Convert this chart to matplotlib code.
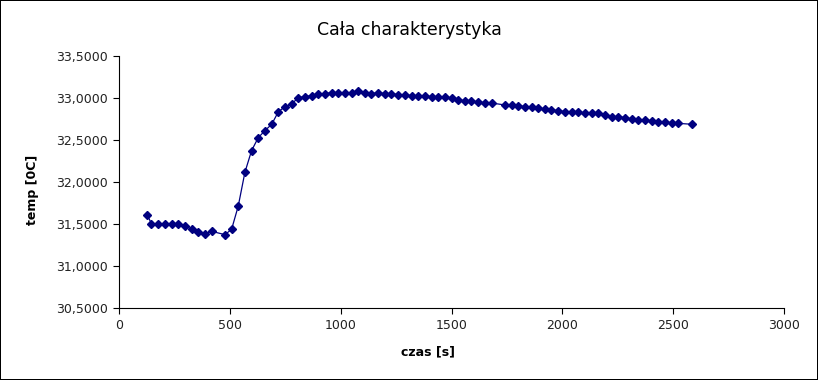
import matplotlib
matplotlib.use("Agg")
import matplotlib.pyplot as plt
from matplotlib.ticker import FuncFormatter

czas = [128, 146, 177, 208, 238, 268, 298, 328, 358, 388, 418, 478, 508, 538,
        568, 598, 628, 658, 689, 719, 749, 779, 809, 839, 869, 899, 929, 959,
        989, 1019, 1049, 1079, 1109, 1139, 1169, 1199, 1229, 1260, 1290, 1320,
        1350, 1380, 1410, 1440, 1470, 1500, 1530, 1560, 1590, 1621, 1651, 1681,
        1741, 1771, 1801, 1831, 1861, 1891, 1921, 1951, 1981, 2012, 2042, 2072,
        2102, 2132, 2162, 2192, 2222, 2252, 2282, 2313, 2343, 2373, 2403, 2433,
        2463, 2493, 2523, 2586]
temp = [31.607, 31.504, 31.504, 31.504, 31.504, 31.504, 31.48, 31.437, 31.40,
        31.385, 31.413, 31.373, 31.437, 31.714,
        32.115, 32.373, 32.527, 32.611, 32.687, 32.837, 32.896, 32.929, 33.004,
        33.016, 33.028, 33.052, 33.052, 33.063, 33.063, 33.063, 33.063, 33.083,
        33.063, 33.052, 33.063, 33.052, 33.052, 33.040, 33.036, 33.028, 33.024,
        33.024, 33.016, 33.012, 33.006, 32.996, 32.976, 32.968, 32.964, 32.952,
        32.944, 32.940, 32.917, 32.917, 32.909, 32.896, 32.889, 32.877, 32.865,
        32.857, 32.849, 32.837, 32.837, 32.829, 32.825, 32.817, 32.817, 32.794,
        32.778, 32.778, 32.766, 32.750, 32.742, 32.734, 32.730, 32.718, 32.710,
        32.702, 32.698, 32.687]

x_ticks = [0, 500, 1000, 1500, 2000, 2500, 3000]
y_ticks = [30.5, 31.0, 31.5, 32.0, 32.5, 33.0, 33.5]

fig = plt.figure(figsize=(8.18, 3.80), dpi=100)
fig.patch.set_edgecolor("black")
fig.patch.set_linewidth(1.2)
ax = fig.add_axes([119 / 818, 1 - 308 / 380, 665 / 818, 252 / 380])

ax.plot(czas, temp, color="#000080", linewidth=0.9, marker="D", markersize=4.5,
        markerfacecolor="#000080", markeredgecolor="#000080")

ax.set_xlim(0, 3000)
ax.set_ylim(30.5, 33.5)
ax.set_xticks(x_ticks)
ax.set_yticks(y_ticks)
ax.yaxis.set_major_formatter(FuncFormatter(lambda v, p: ("%.4f" % v).replace(".", ",")))
ax.tick_params(labelsize=9, length=4, pad=4, color="black", labelcolor="#222222")
ax.spines["top"].set_visible(False)
ax.spines["right"].set_visible(False)

ax.set_xlabel("czas [s]", fontsize=9, fontweight="bold")
ax.set_ylabel("temp [0C]", fontsize=9, fontweight="bold")
ax.xaxis.set_label_coords(0.465, -0.147)
ax.yaxis.set_label_coords(-0.12, 0.47)
fig.suptitle("Cała charakterystyka", fontsize=12.5, y=0.945)

fig.savefig("out.png", dpi=100, edgecolor=fig.get_edgecolor())
